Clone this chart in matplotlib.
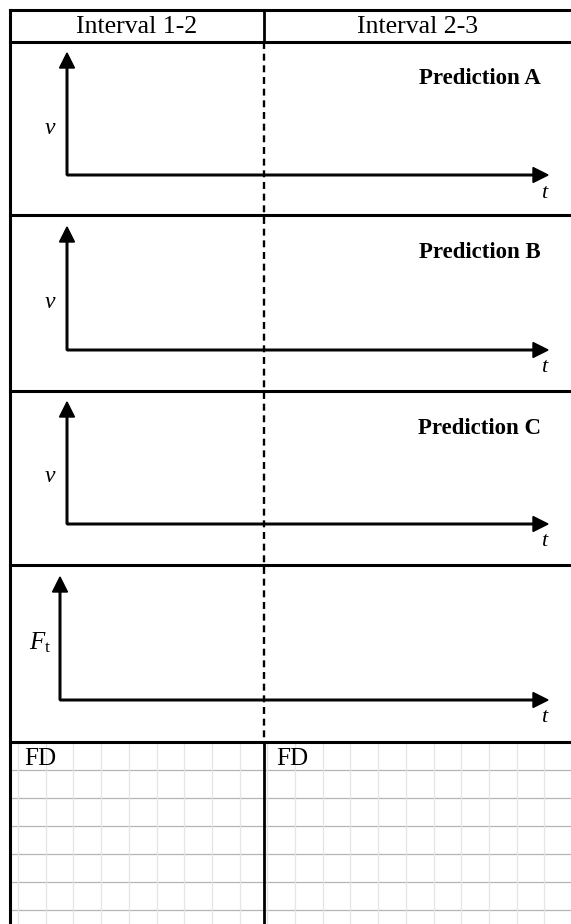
import numpy as np
import matplotlib.pyplot as plt

plt.rcParams['font.family'] = ['Liberation Serif', 'DejaVu Serif']
plt.rcParams['mathtext.fontset'] = 'custom'
plt.rcParams['mathtext.rm'] = 'Liberation Serif'
plt.rcParams['mathtext.it'] = 'Liberation Serif:italic'
plt.rcParams['lines.scale_dashes'] = False

# worksheet content
col_headers = ['Interval 1-2', 'Interval 2-3']
panel_titles = ['Prediction A', 'Prediction B', 'Prediction C', '']
y_labels = [r'$v$', r'$v$', r'$v$', r'$F_{\mathrm{t}}$']
x_label = r'$t$'
fd_labels = ['FD', 'FD']

# layout (pixels)
W, H = 571, 924
left, top, head_bot = 10, 10, 42
row_bots = [215, 391, 565, 742]
row_tops = [head_bot] + row_bots[:-1]
mid_x = 264
origin_x = [67, 67, 67, 60]
axis_y = [175, 350, 524, 700]
tip_y = [53, 227, 402, 577]
tip_x = 548

fig = plt.figure(figsize=(W / 100, H / 100), dpi=100)
ax = fig.add_axes([0, 0, 1, 1])
ax.set_xlim(0, W)
ax.set_ylim(H, 0)
ax.axis('off')

# paper grid in the FD row
fd_top = row_bots[-1]
for gy in np.arange(fd_top + 28, H, 28):
    ax.plot([left, W], [gy, gy], color='#b4b4b4', lw=0.9, zorder=1)
for gx in np.arange(18, W, 27.7):
    ax.plot([gx, gx], [fd_top, H], color='#e4e4e4', lw=0.9, zorder=1)

# table frame
for y in [top, head_bot] + row_bots:
    ax.plot([left, W], [y, y], color='black', lw=2.2, zorder=3)
ax.plot([left, left], [top, H], color='black', lw=2.2, zorder=3)
ax.plot([mid_x, mid_x], [top, head_bot], color='black', lw=2.0, zorder=3)
ax.plot([mid_x, mid_x], [head_bot, fd_top], color='black', lw=1.7,
        dashes=(5.0, 3.4), zorder=3)
ax.plot([mid_x, mid_x], [fd_top, H], color='black', lw=2.0, zorder=3)

# column headers
centers = [(left + mid_x) / 2, (mid_x + W) / 2]
for cx, lab in zip(centers, col_headers):
    ax.text(cx, (top + head_bot) / 2 + 1, lab, ha='center', va='center',
            fontsize=18.5, zorder=4)

# sketch axes
for i in range(4):
    ox, oy = origin_x[i], axis_y[i]
    ax.arrow(ox, oy, 0, tip_y[i] - oy, width=1.6, head_width=15,
             head_length=15, length_includes_head=True, color='black',
             zorder=4)
    ax.arrow(ox, oy, tip_x - ox, 0, width=1.6, head_width=15,
             head_length=15, length_includes_head=True, color='black',
             zorder=4)
    ax.text(545, oy + 18, x_label, ha='center', va='center', fontsize=16,
            zorder=4)
    if i < 3:
        ax.text(50, oy - 47, y_labels[i], ha='center', va='center',
                fontsize=17, zorder=4)
    else:
        ax.text(40, oy - 57, y_labels[i], ha='center', va='center',
                fontsize=18, zorder=4)
    if panel_titles[i]:
        ax.text(541, row_tops[i] + 37, panel_titles[i], ha='right',
                va='center', fontsize=16.5, fontweight='bold', zorder=4)

# free-body diagram boxes
for fx, lab in zip([left + 14, mid_x + 12], fd_labels):
    ax.text(fx, fd_top + 17, lab, ha='left', va='center', fontsize=18,
            zorder=4)

fig.savefig('out.png', dpi=100, facecolor='white')
